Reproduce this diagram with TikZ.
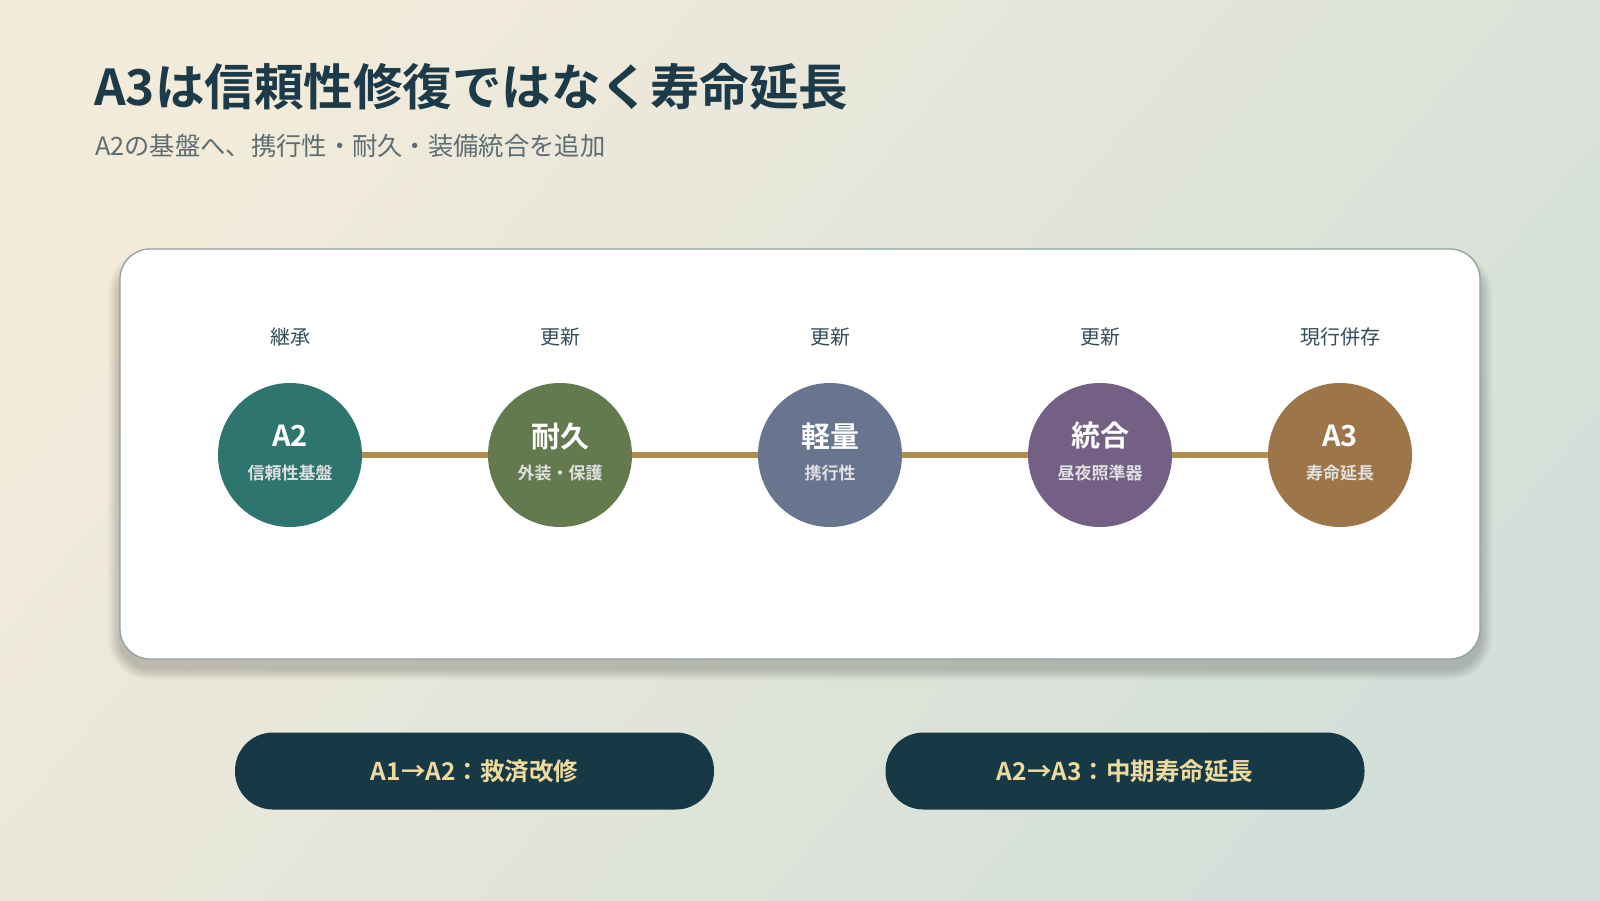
\documentclass[tikz,border=0pt]{standalone}
\usepackage{fontspec}
\setmainfont{Noto Sans CJK JP}[BoldFont={Noto Sans CJK JP Bold}]
\usepackage{tikz}
\usetikzlibrary{positioning}

\definecolor{bgcream}{HTML}{F2EBDA}
\definecolor{bgsage}{HTML}{D3DFD9}
\definecolor{ink}{HTML}{1C3A47}
\definecolor{subink}{HTML}{5D6D71}
\definecolor{cardline}{HTML}{91A19F}
\definecolor{linkgold}{HTML}{B08B4E}
\definecolor{cteal}{HTML}{2E746F}
\definecolor{cmoss}{HTML}{627A4E}
\definecolor{cslate}{HTML}{67758F}
\definecolor{cplum}{HTML}{745F85}
\definecolor{cbronze}{HTML}{9C7648}
\definecolor{pillfill}{HTML}{173845}
\definecolor{pilltext}{HTML}{EDDA9F}

\begin{document}
\begin{tikzpicture}[x=1pt,y=-1pt,node distance=270pt,
link/.style={draw=linkgold,line width=6.5pt}]
\tikzstyle{stage}=[circle,minimum size=144pt,inner sep=0pt,draw=none]
\tikzstyle{head}=[text=white,inner sep=0pt,font=\bfseries\fontsize{29}{29}\selectfont]
\tikzstyle{sub}=[text=white!88!black,inner sep=0pt,font=\bfseries\fontsize{17}{17}\selectfont]
\tikzstyle{tag}=[text=ink!90,inner sep=0pt,font=\fontsize{20}{20}\selectfont]
\tikzstyle{pill}=[fill=pillfill,rounded corners=38pt,minimum width=479pt,minimum height=77pt,
text=pilltext,font=\bfseries\fontsize{24.5}{24.5}\selectfont]

% background
\useasboundingbox (0,0) rectangle (1600,900);
\shade[top color=bgcream,bottom color=bgsage,shading angle=50] (0,0) rectangle (1600,900);

% title
\node[anchor=west,inner sep=0pt,text=ink,font=\bfseries\fontsize{49.5}{49.5}\selectfont]
(title) at (94,87) {A3は信頼性修復ではなく寿命延長};
\node[anchor=west,inner sep=0pt,text=subink,font=\fontsize{25.3}{25.3}\selectfont]
(subtitle) at (95,146) {A2の基盤へ、携行性・耐久・装備統合を追加};

% card with soft shadow
\foreach \i in {1,...,12}
\fill[black,opacity=0.014,rounded corners={30+\i}]
({120-\i},{263-\i}) rectangle ({1480+\i},{668+\i});
\node[draw=cardline,line width=1.3pt,fill=white,rounded corners=30pt,
minimum width=1360pt,minimum height=410pt] (card) at (800,454) {};

% stages
\node[stage,fill=cteal]   (A2) at (290,455) {};
\node[stage,fill=cmoss]   (B)  [right of=A2] {};
\node[stage,fill=cslate]  (C)  [right of=B] {};
\node[stage,fill=cplum]   (D)  [right of=C] {};
\node[stage,fill=cbronze] (A3) [right of=D,node distance=240pt] {};

\path[link]
(A2) edge (B)
(B)  edge (C)
(C)  edge (D)
(D)  edge (A3);

\node[head] (A2h) at ([yshift=19pt]A2.center) {A2};
\node[head] (Bh)  at ([yshift=19pt]B.center)  {耐久};
\node[head] (Ch)  at ([yshift=19pt]C.center)  {軽量};
\node[head] (Dh)  at ([yshift=19pt]D.center)  {統合};
\node[head] (A3h) at ([yshift=19pt]A3.center) {A3};

\node[sub] (A2s) at ([yshift=-18.5pt]A2.center) {信頼性基盤};
\node[sub] (Bs)  at ([yshift=-18.5pt]B.center)  {外装・保護};
\node[sub] (Cs)  at ([yshift=-18.5pt]C.center)  {携行性};
\node[sub] (Ds)  at ([yshift=-18.5pt]D.center)  {昼夜照準器};
\node[sub] (A3s) at ([yshift=-18.5pt]A3.center) {寿命延長};

\node[tag] (A2t) at ([yshift=118pt]A2.center) {継承};
\node[tag] (Bt)  at ([yshift=118pt]B.center)  {更新};
\node[tag] (Ct)  at ([yshift=118pt]C.center)  {更新};
\node[tag] (Dt)  at ([yshift=118pt]D.center)  {更新};
\node[tag] (A3t) at ([yshift=118pt]A3.center) {現行併存};

% phases
\node[pill] (p1) at (474.5,771) {A1→A2：救済改修};
\node[pill] (p2) at (1125,771)  {A2→A3：中期寿命延長};
\end{tikzpicture}
\end{document}
